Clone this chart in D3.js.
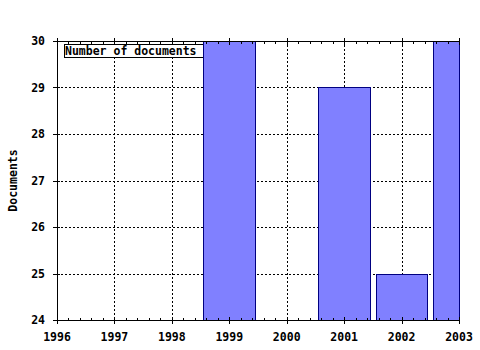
<!DOCTYPE html>
<html>
<head>
<meta charset="utf-8">
<script src="https://cdn.jsdelivr.net/npm/d3@7"></script>
<style>
  body { margin: 0; background: #fff; }
  text { font-family: "DejaVu Sans Mono", monospace; font-weight: bold; font-size: 11.5px; fill: #000; }
</style>
</head>
<body>
<div id="chart"></div>
<script>
// data
const years = [1996, 1997, 1998, 1999, 2000, 2001, 2002, 2003];
const documents = [0, 0, 0, 30, 0, 29, 25, 30];
const yTicks = [24, 25, 26, 27, 28, 29, 30];
const seriesName = 'Number of documents';

const margin = { top: 41, right: 21, bottom: 30, left: 57 };
const W = 480, H = 350;
const width = W - margin.left - margin.right;
const height = H - margin.top - margin.bottom;

const svg = d3.select('#chart').append('svg')
  .attr('width', W).attr('height', H);

const chart = svg.append('g')
  .attr('transform', 'translate(' + margin.left + ',' + margin.top + ')');

const x = d3.scaleLinear().domain([1996, 2003]).range([0, width]);
const y = d3.scaleLinear().domain([24, 30]).range([height, 0]);

// grid lines
chart.append('g').selectAll('line.gx')
  .data(years.slice(1, -1))
  .enter().append('line')
  .attr('x1', d => Math.round(x(d)) + 0.5).attr('x2', d => Math.round(x(d)) + 0.5)
  .attr('y1', 0).attr('y2', height)
  .attr('stroke', '#000').attr('stroke-dasharray', '2,2');

chart.append('g').selectAll('line.gy')
  .data(yTicks.slice(1, -1))
  .enter().append('line')
  .attr('x1', 0).attr('x2', width)
  .attr('y1', d => Math.round(y(d)) + 0.5).attr('y2', d => Math.round(y(d)) + 0.5)
  .attr('stroke', '#000').attr('stroke-dasharray', '2,2');

// legend (drawn under the bars)
const legend = chart.append('g');
legend.append('rect')
  .attr('x', 7.5).attr('y', 3.5).attr('width', 139).attr('height', 13)
  .attr('fill', '#fff').attr('stroke', '#000');
legend.append('text')
  .attr('x', 8).attr('y', 14)
  .text(seriesName);

// bars
const barW = 0.9;
const bars = years.map((yr, i) => ({ year: yr, value: documents[i] }))
  .filter(d => d.value > y.domain()[0]);

const bx0 = d => Math.max(0, Math.round(x(d.year - barW / 2)));
const bx1 = d => Math.min(width, Math.round(x(d.year + barW / 2)));

chart.append('g').selectAll('rect.bar')
  .data(bars)
  .enter().append('rect')
  .attr('x', d => bx0(d) + 0.5)
  .attr('y', d => Math.round(y(d.value)) + 0.5)
  .attr('width', d => bx1(d) - bx0(d))
  .attr('height', d => height - Math.round(y(d.value)))
  .attr('fill', '#8080ff')
  .attr('stroke', '#000080');

// axes
const minor = d3.range(1996, 2003.01, 0.2);

const axBottom = chart.append('g').attr('transform', 'translate(0,' + height + ')');
axBottom.append('line').attr('x1', 0).attr('x2', width + 1).attr('y1', 0.5).attr('y2', 0.5).attr('stroke', '#000');
axBottom.selectAll('line.minor').data(minor).enter().append('line')
  .attr('x1', d => Math.round(x(d)) + 0.5).attr('x2', d => Math.round(x(d)) + 0.5)
  .attr('y1', 0).attr('y2', -2).attr('stroke', '#000');
axBottom.selectAll('line.major').data(years).enter().append('line')
  .attr('x1', d => Math.round(x(d)) + 0.5).attr('x2', d => Math.round(x(d)) + 0.5)
  .attr('y1', -3).attr('y2', 4).attr('stroke', '#000');
axBottom.selectAll('text').data(years).enter().append('text')
  .attr('x', d => x(d)).attr('y', 21)
  .attr('text-anchor', 'middle')
  .text(d => d);

const axTop = chart.append('g');
axTop.append('line').attr('x1', 0).attr('x2', width + 1).attr('y1', 0.5).attr('y2', 0.5).attr('stroke', '#000');
axTop.selectAll('line.minor').data(minor).enter().append('line')
  .attr('x1', d => Math.round(x(d)) + 0.5).attr('x2', d => Math.round(x(d)) + 0.5)
  .attr('y1', 0).attr('y2', 3).attr('stroke', '#000');
axTop.selectAll('line.major').data(years).enter().append('line')
  .attr('x1', d => Math.round(x(d)) + 0.5).attr('x2', d => Math.round(x(d)) + 0.5)
  .attr('y1', -3).attr('y2', 4).attr('stroke', '#000');

const axLeft = chart.append('g');
axLeft.append('line').attr('x1', 0.5).attr('x2', 0.5).attr('y1', 0).attr('y2', height + 1).attr('stroke', '#000');
axLeft.selectAll('line.major').data(yTicks).enter().append('line')
  .attr('x1', -4).attr('x2', 3)
  .attr('y1', d => Math.round(y(d)) + 0.5).attr('y2', d => Math.round(y(d)) + 0.5)
  .attr('stroke', '#000');
axLeft.selectAll('text').data(yTicks).enter().append('text')
  .attr('x', -12).attr('y', d => y(d) + 4)
  .attr('text-anchor', 'end')
  .text(d => d);

svg.append('text')
  .attr('transform', 'translate(17,' + (margin.top + height / 2) + ') rotate(-90)')
  .attr('text-anchor', 'middle')
  .text('Documents');
</script>
</body>
</html>
